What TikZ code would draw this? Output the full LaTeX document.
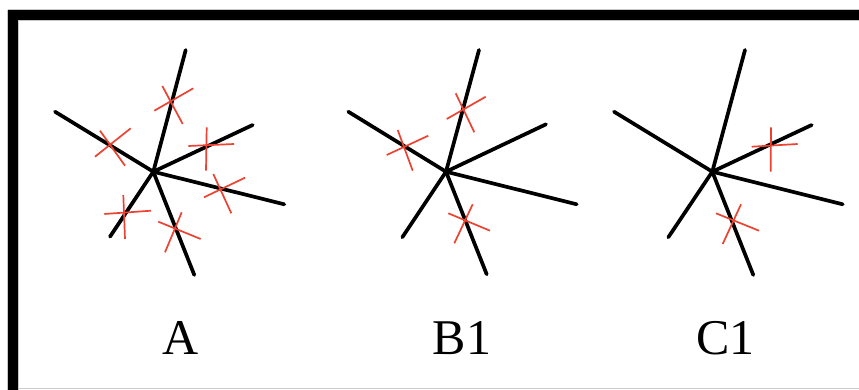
\documentclass[tikz,border=0pt]{standalone}
\usepackage{fontspec}
\setmainfont{Liberation Serif}
\definecolor{crossred}{RGB}{236,66,50}
\begin{document}
\begin{tikzpicture}[x=1pt,y=-1pt,
  ray/.style={line width=3.7pt,line cap=round,black},
  crs/.style={line width=1.7pt,crossred},
  lbl/.style={anchor=base,inner sep=0pt,font=\fontsize{50}{58}\selectfont}]
\useasboundingbox (0,0) rectangle (859,390);
% frame
\fill[black] (8,10) rectangle (859,20);
\fill[black] (8,10) rectangle (18,390);
\draw[gray!45,line width=0.7pt] (8,9.7) -- (859,9.7);
\draw[gray!45,line width=0.7pt] (7.7,10) -- (7.7,390);
\draw[gray!45,line width=0.7pt] (18,20.3) -- (859,20.3);
\draw[gray!45,line width=0.7pt] (18.3,20) -- (18.3,390);
\draw[gray!40,line width=1pt] (18,388.5) -- (859,388.5);
% star A
\coordinate (ac) at (153.3,171.7);
\coordinate (a1) at (185.7,50);
\coordinate (a2) at (55,111.7);
\coordinate (a3) at (252.7,125);
\coordinate (a4) at (284.3,204.3);
\coordinate (a5) at (194.3,275);
\coordinate (a6) at (110,236.7);
\foreach \e in {a1,a2,a3,a4,a5,a6} \draw[ray] (ac) -- (\e);
\draw[crs] (154.3,110.7) -- (193.3,88.3) (162.3,86) -- (182.7,124);
\draw[crs] (95,156.7) -- (130.7,128.3) (100,130.7) -- (125,165.7);
\draw[crs] (188.3,146) -- (234,144) (206.7,127.3) -- (206,170.7);
\draw[crs] (204,197.3) -- (245,177.7) (213.3,174) -- (231.3,213.3);
\draw[crs] (158.3,221.7) -- (200.7,239) (181.7,212.3) -- (165,252.3);
\draw[crs] (104.3,214) -- (151,210.7) (123.3,195) -- (125,239);
% star B1
\coordinate (bc) at (446,171.7);
\coordinate (b1) at (479,50);
\coordinate (b2) at (348.3,111.7);
\coordinate (b3) at (546,124.3);
\coordinate (b4) at (576.7,204.3);
\coordinate (b5) at (486.7,274.3);
\coordinate (b6) at (402.3,237.3);
\foreach \e in {b1,b2,b3,b4,b5,b6} \draw[ray] (bc) -- (\e);
\draw[crs] (446.7,119) -- (485.7,96.7) (455.7,93.3) -- (474.3,132.3);
\draw[crs] (386.7,155) -- (428.3,135.7) (397.7,130) -- (412.7,170.7);
\draw[crs] (448.3,213.3) -- (490,230.7) (472.7,204.3) -- (454.3,243.3);
% star C1
\coordinate (cc) at (712.3,171.7);
\coordinate (c1) at (745,50);
\coordinate (c2) at (614,111.7);
\coordinate (c3) at (811.7,125);
\coordinate (c4) at (842.7,204.3);
\coordinate (c5) at (753.3,275);
\coordinate (c6) at (668.3,237.3);
\foreach \e in {c1,c2,c3,c4,c5,c6} \draw[ray] (cc) -- (\e);
\draw[crs] (751.7,146.7) -- (797.7,144) (771,127.3) -- (770.7,171.7);
\draw[crs] (716,213.3) -- (759,230.7) (741,204.3) -- (722.7,244);
% labels
\node[lbl] (la) at (180.5,354.5) {A};
\node[lbl] (lb) at (462,354.5) {B1};
\node[lbl] (lc) at (725.5,354.5) {C1};
\end{tikzpicture}
\end{document}
